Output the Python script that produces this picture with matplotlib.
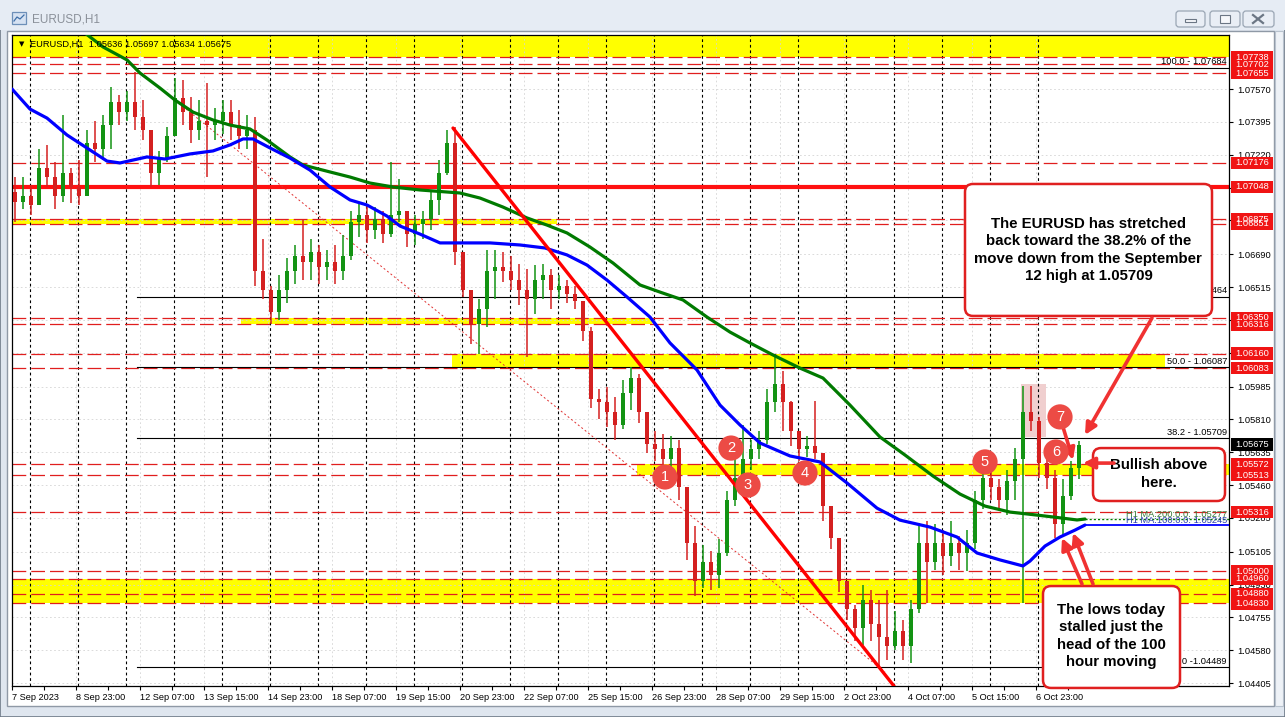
import matplotlib
matplotlib.use("Agg")
import matplotlib.pyplot as plt
from matplotlib.patches import Rectangle, FancyBboxPatch
from matplotlib.transforms import blended_transform_factory

plt.rcParams['font.family'] = ['Liberation Sans', 'DejaVu Sans']

# ---------------- data ----------------
first_open = 1.0702
candle_high = [1.0710, 1.0710, 1.0706, 1.0725, 1.0727, 1.0718, 1.0743, 1.0715, 1.0719, 1.0735,
               1.0740, 1.0743, 1.0758, 1.0754, 1.0756, 1.0766, 1.0751, 1.0735, 1.0724, 1.0737,
               1.0763, 1.0762, 1.0753, 1.0751, 1.0760, 1.0747, 1.0751, 1.0751, 1.0746, 1.0743,
               1.0742, 1.0677, 1.0652, 1.0658, 1.0667, 1.0674, 1.0687, 1.0677, 1.0674, 1.0671,
               1.0674, 1.0679, 1.0692, 1.0696, 1.0695, 1.0694, 1.0692, 1.0718, 1.0709, 1.0692,
               1.0690, 1.0692, 1.0703, 1.0719, 1.0735, 1.0737, 1.0670, 1.0650, 1.0645, 1.0671,
               1.0671, 1.0670, 1.0668, 1.0664, 1.0661, 1.0663, 1.0664, 1.0661, 1.0658, 1.0655,
               1.0652, 1.0644, 1.0630, 1.0597, 1.0598, 1.0593, 1.0602, 1.0609, 1.0605, 1.0585,
               1.0575, 1.0573, 1.0572, 1.0570, 1.0545, 1.0524, 1.0514, 1.0511, 1.0517, 1.0543,
               1.0565, 1.0578, 1.0570, 1.0575, 1.0597, 1.0616, 1.0607, 1.0591, 1.0575, 1.0572,
               1.0591, 1.0563, 1.0535, 1.0518, 1.0495, 1.0482, 1.0493, 1.0490, 1.0485, 1.0490,
               1.0479, 1.0474, 1.0485, 1.0526, 1.0527, 1.0525, 1.0522, 1.0527, 1.0519, 1.0522,
               1.0543, 1.0557, 1.0554, 1.0549, 1.0554, 1.0566, 1.0599, 1.0599, 1.0582, 1.0567,
               1.0554, 1.0549, 1.0559, 1.05697]
candle_low = [1.0686, 1.0693, 1.0690, 1.0695, 1.0705, 1.0693, 1.0697, 1.0696, 1.0695, 1.0709,
              1.0718, 1.0719, 1.0725, 1.0738, 1.0740, 1.0735, 1.0730, 1.0705, 1.0706, 1.0718,
              1.0732, 1.0738, 1.0728, 1.0730, 1.0710, 1.0730, 1.0733, 1.0730, 1.0725, 1.0725,
              1.0652, 1.0645, 1.0632, 1.0634, 1.0643, 1.0653, 1.0655, 1.0655, 1.0653, 1.0655,
              1.0653, 1.0655, 1.0666, 1.0678, 1.0675, 1.0677, 1.0675, 1.0678, 1.0686, 1.0673,
              1.0674, 1.0677, 1.0682, 1.0690, 1.0711, 1.0663, 1.0646, 1.0621, 1.0616, 1.0630,
              1.0645, 1.0654, 1.0650, 1.0642, 1.0614, 1.0637, 1.0645, 1.0640, 1.0645, 1.0643,
              1.0640, 1.0623, 1.0587, 1.0581, 1.0577, 1.0570, 1.0576, 1.0586, 1.0579, 1.0563,
              1.0559, 1.0552, 1.0554, 1.0538, 1.0506, 1.0487, 1.0491, 1.0490, 1.0491, 1.0508,
              1.0535, 1.0548, 1.0554, 1.0560, 1.0568, 1.0585, 1.0575, 1.0567, 1.0559, 1.0561,
              1.0560, 1.0527, 1.0512, 1.0489, 1.0474, 1.0463, 1.0461, 1.0463, 1.0449, 1.0453,
              1.0458, 1.0453, 1.0451, 1.0478, 1.0483, 1.0501, 1.0498, 1.0503, 1.0501, 1.0500,
              1.0512, 1.0533, 1.0538, 1.0533, 1.0530, 1.0538, 1.0483, 1.0575, 1.0550, 1.0544,
              1.0518, 1.0519, 1.0538, 1.0549]
candle_close = [1.0697, 1.0700, 1.0695, 1.0715, 1.0710, 1.0700, 1.0712, 1.0705, 1.0700, 1.0728,
                1.0725, 1.0738, 1.0750, 1.0745, 1.0750, 1.0742, 1.0735, 1.0712, 1.0720, 1.0732,
                1.0752, 1.0745, 1.0735, 1.0740, 1.0738, 1.0740, 1.0745, 1.0738, 1.0732, 1.0735,
                1.0660, 1.0650, 1.0638, 1.0650, 1.0660, 1.0668, 1.0665, 1.0670, 1.0662, 1.0665,
                1.0660, 1.0668, 1.0686, 1.0690, 1.0682, 1.0688, 1.0680, 1.0690, 1.0692, 1.0680,
                1.0685, 1.0688, 1.0698, 1.0712, 1.0728, 1.0670, 1.0650, 1.0632, 1.0640, 1.0660,
                1.0662, 1.0660, 1.0655, 1.0650, 1.0645, 1.0655, 1.0658, 1.0650, 1.0652, 1.0648,
                1.0644, 1.0628, 1.0592, 1.0590, 1.0585, 1.0578, 1.0595, 1.0603, 1.0585, 1.0568,
                1.0565, 1.0560, 1.0566, 1.0545, 1.0515, 1.0495, 1.0505, 1.0498, 1.0510, 1.0538,
                1.0550, 1.0560, 1.0565, 1.0570, 1.0590, 1.0600, 1.0590, 1.0575, 1.0565, 1.0567,
                1.0563, 1.0535, 1.0518, 1.0495, 1.0480, 1.0470, 1.0485, 1.0472, 1.0465, 1.0460,
                1.0468, 1.0460, 1.0480, 1.0515, 1.0505, 1.0515, 1.0508, 1.0515, 1.0510, 1.0515,
                1.0538, 1.0550, 1.0545, 1.0538, 1.0548, 1.0560, 1.0585, 1.0580, 1.0558, 1.0550,
                1.0525, 1.0540, 1.0555, 1.05675]
bars_per_candle = 4

ma100_bar = [0, 9, 17.5, 27.5, 39, 47.5, 54, 67.5, 76.5, 89, 100.5, 109, 115.5, 120.5, 129, 139,
             149, 159, 169, 177.5, 187.5, 194, 204, 214, 220.5, 239, 254, 266.5, 277.5, 287.5,
             297.5, 307.5, 319, 329, 342.5, 354, 364, 374, 389, 404, 417.5, 432.5, 444, 459,
             472.5, 482.5, 494, 505.5, 509, 516.5, 524, 531.5, 536.5]
ma100_val = [1.07570, 1.07463, 1.07415, 1.07325, 1.07245, 1.07186, 1.07176, 1.07208, 1.07197,
             1.07224, 1.07240, 1.07272, 1.07304, 1.07304, 1.07256, 1.07202, 1.07138, 1.07048,
             1.06979, 1.06952, 1.06893, 1.06840, 1.06797, 1.06750, 1.06750, 1.06750, 1.06739,
             1.06723, 1.06686, 1.06632, 1.06552, 1.06462, 1.06355, 1.06217, 1.06073, 1.05886,
             1.05780, 1.05684, 1.05615, 1.05583, 1.05471, 1.05337, 1.05273, 1.05236, 1.05183,
             1.05098, 1.05061, 1.05029, 1.05055, 1.05135, 1.05183, 1.05220, 1.05247]
ma200_bar = [36.5, 45.5, 57.5, 64, 74, 81.5, 90.5, 100.5, 109, 119, 127.5, 139, 145.5, 159, 169,
             179, 190.5, 204, 224, 234, 245.5, 257.5, 267.5, 277.5, 289, 300.5, 314, 324, 335.5,
             347.5, 359, 369, 380.5, 394, 405.5, 419, 434, 446.5, 460.5, 474, 486.5, 499, 507.5,
             520.5, 532.5, 536.5]
ma200_val = [1.07868, 1.07794, 1.07725, 1.07655, 1.07575, 1.07511, 1.07447, 1.07405, 1.07378,
             1.07357, 1.07298, 1.07208, 1.07165, 1.07128, 1.07101, 1.07069, 1.07048, 1.07032,
             1.07016, 1.06989, 1.06941, 1.06883, 1.06845, 1.06803, 1.06728, 1.06643, 1.06526,
             1.06488, 1.06446, 1.06355, 1.06275, 1.06217, 1.06153, 1.06083, 1.06030, 1.05886,
             1.05716, 1.05620, 1.05508, 1.05412, 1.05348, 1.05316, 1.05306, 1.05290, 1.05274,
             1.05279]
ma200_last = 1.05277
ma100_last = 1.05245

time_label_bars = [0, 32, 64, 96, 128, 160, 192, 224, 256, 288, 320, 352, 384, 416, 448, 480, 512]
time_labels = ['7 Sep 2023', '8 Sep 23:00', '12 Sep 07:00', '13 Sep 15:00', '14 Sep 23:00',
               '18 Sep 07:00', '19 Sep 15:00', '20 Sep 23:00', '22 Sep 07:00', '25 Sep 15:00',
               '26 Sep 23:00', '28 Sep 07:00', '29 Sep 15:00', '2 Oct 23:00', '4 Oct 07:00',
               '5 Oct 15:00', '6 Oct 23:00']
day_start_bars = [9, 33, 57, 81, 105, 129, 153, 177, 201, 225, 249, 273, 297, 321, 345, 369,
                  393, 417, 441, 465, 489, 513]

price_ticks = [1.07570, 1.07395, 1.07220, 1.07045, 1.06870, 1.06690, 1.06515, 1.06340, 1.06165,
               1.05985, 1.05810, 1.05635, 1.05460, 1.05285, 1.05105, 1.04930, 1.04755, 1.04580,
               1.04405]
dashed_levels = [1.07738, 1.07702, 1.07655, 1.07176, 1.06851, 1.06875, 1.06350, 1.06316, 1.06160,
                 1.06083, 1.05572, 1.05513, 1.05316, 1.05000, 1.04960, 1.04880, 1.04830]
solid_level = 1.07048
current_price = 1.05675
ohlc_text = 'EURUSD,H1  1.05636 1.05697 1.05634 1.05675'

fib_values = [1.07684, 1.06464, 1.06087, 1.05709, 1.04489]
fib_labels = ['100.0 - 1.07684', '61.8 - 1.06464', '50.0 - 1.06087', '38.2 - 1.05709', '0.0 -1.04489']
fib_start_bar = 62.5

# yellow zones: (low price, high price, start bar, end bar)
zone_low = [1.07740, 1.06851, 1.06316, 1.06083, 1.05513, 1.04830]
zone_high = [1.07900, 1.06880, 1.06350, 1.06160, 1.05572, 1.04960]
zone_start = [0, 0, 114.5, 220, 312.5, 0]
zone_end = [608.5, 272.5, 320, 576.5, 608.5, 608.5]

trend_bars = [220.5, 441]
trend_prices = [1.07362, 1.04389]
dotted_bars = [61.5, 436.5]
dotted_prices = [1.07682, 1.04464]

marker_bars = [326.5, 359.5, 368, 396.5, 486.5, 522, 524]
marker_prices = [1.05503, 1.05657, 1.05460, 1.05524, 1.05583, 1.05636, 1.05823]
marker_text = ['1', '2', '3', '4', '5', '6', '7']

XMAX = 608.5
YMIN, YMAX = 1.043894, 1.078577

# ---------------- figure & chrome ----------------
W, H = 1285, 717
fig = plt.figure(figsize=(W / 100, H / 100), dpi=100)
bg = fig.add_axes([0, 0, 1, 1], zorder=0)
bg.set_xlim(0, W)
bg.set_ylim(H, 0)
bg.axis('off')
bg.add_patch(Rectangle((0, 0), W, H, fc='#dfe6ef', ec='#6f7a88', lw=1.2))
bg.add_patch(Rectangle((0, 0), W, 30, fc='#e6ecf4', ec='none'))
bg.add_patch(Rectangle((7, 31), 1267, 675, fc='white', ec='#8f99a6', lw=1))
bg.add_patch(Rectangle((1275, 31), 8, 675, fc='#eef2f7', ec='#b8c2ce', lw=0.8))
# title icon and text
bg.add_patch(Rectangle((12, 12), 14, 12, fc='#d6e2f2', ec='#6d8fb8', lw=0.9))
bg.plot([14, 17, 20, 24], [21, 17, 19, 15], color='#3f6fa8', lw=0.9)
bg.text(32, 19, 'EURUSD,H1', fontsize=8.5, color='#8a9099', va='center', ha='left')
# window buttons
for x0, w in [(1176, 29), (1210, 30), (1243, 31)]:
    bg.add_patch(FancyBboxPatch((x0, 11), w, 16, boxstyle='round,pad=0,rounding_size=3',
                                fc='#e9eef5', ec='#9aa6b4', lw=0.9))
bg.add_patch(Rectangle((1185, 19), 11, 3, fc='#f6f8fb', ec='#6b7684', lw=0.8))
bg.add_patch(Rectangle((1220, 15), 10, 8, fc='#f6f8fb', ec='#6b7684', lw=0.8))
bg.plot([1253, 1263], [15, 23], color='#6b7684', lw=1.6)
bg.plot([1253, 1263], [23, 15], color='#6b7684', lw=1.6)

# ---------------- main chart axes ----------------
AX_L, AX_R, AX_T, AX_B = 12, 1229, 35, 686
ax = fig.add_axes([AX_L / W, 1 - AX_B / H, (AX_R - AX_L) / W, (AX_B - AX_T) / H], zorder=2)
ax.set_xlim(0, XMAX)
ax.set_ylim(YMIN, YMAX)
ax.set_facecolor('white')
for s in ax.spines.values():
    s.set_color('black')
    s.set_linewidth(0.9)

# yellow zones
for lo, hi, x0, x1 in zip(zone_low, zone_high, zone_start, zone_end):
    ax.add_patch(Rectangle((x0, lo), x1 - x0, hi - lo, fc='#ffff00', ec='none', zorder=1))

# light grid
for b in time_label_bars:
    ax.axvline(b, color='#d4d4d4', lw=0.6, ls=(0, (2, 3)), zorder=1.2)
for p in price_ticks:
    ax.axhline(p, color='#d4d4d4', lw=0.6, ls=(0, (2, 3)), zorder=1.2)

# pink highlight
ax.add_patch(Rectangle((504.5, 1.05716), 12.5, 0.00282, fc='#f0cfcf', ec='none', zorder=1.3))

# day separators
for b in day_start_bars:
    ax.axvline(b, color='black', lw=0.8, ls=(0, (2.5, 2.5)), zorder=1.5)

# horizontal levels
for p in dashed_levels:
    ax.axhline(p, color='#e01e1e', lw=0.9, ls=(0, (11, 4)), zorder=2)
ax.axhline(solid_level, color='#ff1010', lw=3.0, zorder=2.2)

# fibonacci lines
for p, lab in zip(fib_values, fib_labels):
    ax.plot([fib_start_bar, XMAX], [p, p], color='black', lw=0.8, zorder=2.1)
    ax.text(XMAX - 1, p + 0.00008, lab, ha='right', va='bottom', fontsize=6.7, zorder=2.3)

# candles
n = len(candle_close)
opens = [first_open] + candle_close[:-1]
for j in range(n):
    x = bars_per_candle * j + 1.5
    o, h, l, c = opens[j], candle_high[j], candle_low[j], candle_close[j]
    col = '#139313' if c >= o else '#d42020'
    ax.vlines(x, l, h, color=col, lw=1.1, zorder=3)
    body = max(abs(c - o), 0.00004)
    ax.bar(x, body, bottom=min(o, c), width=2.2, color=col, lw=0, zorder=3)

# moving averages
ax.plot(ma200_bar, ma200_val, color='#007a00', lw=2.3, zorder=4, solid_capstyle='round')
ax.plot(ma100_bar, ma100_val, color='#0000ff', lw=2.3, zorder=4.1, solid_capstyle='round')
ax.plot([ma200_bar[-1], XMAX], [ma200_last, ma200_last], color='#007a00', lw=1.0,
        ls=(0, (1.5, 1.5)), zorder=4)
ax.plot([ma100_bar[-1], XMAX], [ma100_last, ma100_last], color='#0000ff', lw=1.3, zorder=4)
ax.text(XMAX - 1, ma200_last + 0.00004, 'H1 MA:200:0.0: 1.05277', ha='right', va='bottom',
        fontsize=6.7, color='#3a7d3a', zorder=4.5)
ax.text(XMAX - 1, ma100_last + 0.00002, 'H1 MA:100:0.0: 1.05245', ha='right', va='bottom',
        fontsize=6.7, color='#2a3fb0', zorder=4.5)

# trend lines
ax.plot(trend_bars, trend_prices, color='#ff0000', lw=2.4, zorder=4.6, solid_capstyle='round')
ax.plot(dotted_bars, dotted_prices, color='#e03030', lw=0.7, ls=(0, (2, 2.5)), zorder=2.4)

# top info strip text
ax.text(0.0055, 0.986, '\u25BC', transform=ax.transAxes, fontsize=5, va='center', ha='left',
        family='DejaVu Sans', zorder=6)
ax.text(0.0148, 0.986, ohlc_text, transform=ax.transAxes, fontsize=6.7, va='center',
        ha='left', zorder=6)

# ---------------- axes ticks ----------------
ax.yaxis.tick_right()
ax.set_yticks(price_ticks)
ax.set_yticklabels(['%.5f' % p for p in price_ticks])
ax.tick_params(axis='y', which='major', length=3, width=0.8, pad=3, labelsize=6.7,
               direction='out', left=False, right=True)
ax.set_xticks(time_label_bars)
ax.set_xticklabels(time_labels, ha='left')
ax.set_xticks([b + 16 for b in time_label_bars], minor=True)
ax.tick_params(axis='x', which='both', length=3, width=0.8, pad=2, labelsize=6.6,
               direction='out')

# price tags on right axis
bt = blended_transform_factory(ax.transAxes, ax.transData)
AXW = AX_R - AX_L
TAG_H = 12.5 / 18770.0
def price_tag(p, fc):
    ax.add_patch(Rectangle((1 + 2 / AXW, p - TAG_H / 2), 42 / AXW, TAG_H, transform=bt,
                           fc=fc, ec='none', clip_on=False, zorder=8))
    ax.text(1 + 6 / AXW, p, '%.5f' % p, transform=bt, color='white', fontsize=6.7,
            va='center', ha='left', clip_on=False, zorder=8.1)

for p in dashed_levels[:3] + [dashed_levels[3], solid_level] + dashed_levels[4:]:
    price_tag(p, '#f01414')
price_tag(current_price, 'black')

# ---------------- annotations ----------------
ASPECT = 2.0 / 18770.0
def callout(x0, x1, y0, y1, txt, tx, ty, fs=10.8):
    ax.add_patch(FancyBboxPatch((x0, y0), x1 - x0, y1 - y0,
                                boxstyle='round,pad=0,rounding_size=4', mutation_aspect=ASPECT,
                                fc='white', ec='#e02020', lw=1.8, zorder=10, clip_on=False))
    ax.text(tx, ty, txt, ha='center', va='center', fontsize=fs, fontweight='bold',
            linespacing=1.32, zorder=10.5, clip_on=False)

callout(476.5, 600, 1.06361, 1.07064,
        'The EURUSD has stretched\nback toward the 38.2% of the\nmove down from the September\n12 high at 1.05709',
        538.2, 1.06712)
callout(540.5, 606.5, 1.05375, 1.05657, 'Bullish above\nhere.', 573.5, 1.05519)
callout(515.5, 584, 1.04379, 1.04922, 'The lows today\nstalled just the\nhead of the 100\nhour moving',
        549.7, 1.04656)

arrow_kw = dict(arrowstyle='-|>', color='#f03232', lw=2.6, mutation_scale=17,
                shrinkA=0, shrinkB=0)
def arrow(tail, tip):
    ax.annotate('', xy=tip, xytext=tail, arrowprops=arrow_kw, zorder=11,
                annotation_clip=False)

arrow((570, 1.06350), (536.5, 1.05727))
arrow((551, 1.05577), (535.5, 1.05577))
arrow((535, 1.04933), (525, 1.05178))
arrow((540.5, 1.04933), (530.5, 1.05205))
arrow((525.5, 1.05769), (530.5, 1.05594))

ax.scatter(marker_bars, marker_prices, s=330, color='#ec4b45', edgecolors='none', zorder=12)
for bx, py, t in zip(marker_bars, marker_prices, marker_text):
    ax.text(bx, py, t, ha='center', va='center', fontsize=10.5, color='white', zorder=13)

fig.savefig('out.png', dpi=100)
